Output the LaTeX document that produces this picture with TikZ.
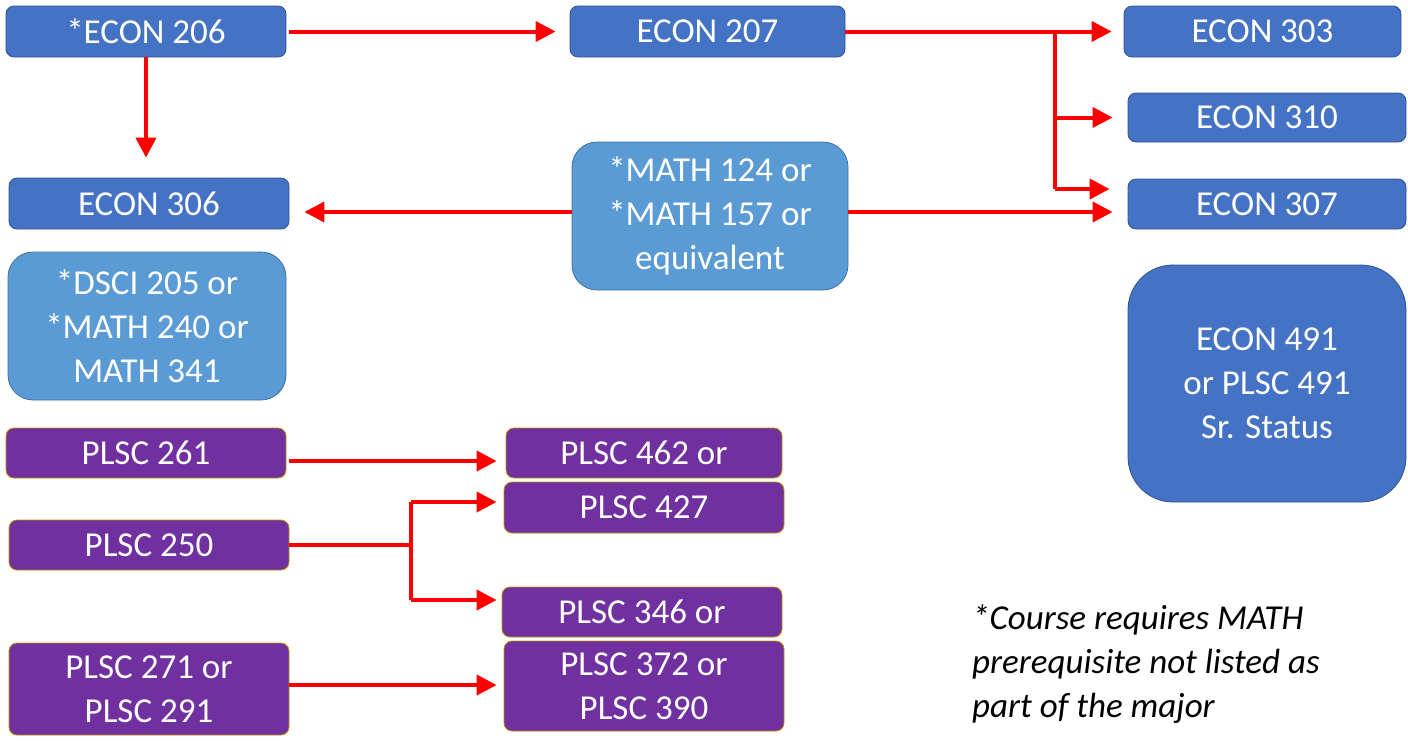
\documentclass[tikz,border=0pt]{standalone}
\usepackage{fontspec}
\setmainfont{Carlito}
\usetikzlibrary{arrows.meta}
\definecolor{eblue}{HTML}{4472C4}
\definecolor{eblueb}{HTML}{2F528F}
\definecolor{lblue}{HTML}{5B9BD5}
\definecolor{lblueb}{HTML}{41719C}
\definecolor{purp}{HTML}{7030A0}
\definecolor{goldb}{HTML}{BF9000}
\definecolor{arrred}{HTML}{FF0000}
\begin{document}
\begin{tikzpicture}[x=1pt,y=-1pt,
  basebox/.style={rectangle, inner sep=0pt, align=center, text=white,
    font=\fontsize{35}{44}\selectfont, line width=0.8pt},
  ebox/.style={basebox, fill=eblue, draw=eblueb, rounded corners=8pt},
  lbox/.style={basebox, fill=lblue, draw=lblueb, rounded corners=25pt},
  pbox/.style={basebox, fill=purp, draw=goldb, rounded corners=8pt},
  arr/.style={draw=arrred, line width=4pt, -{Triangle[length=20pt,width=20pt]}},
  ln/.style={draw=arrred, line width=4pt}]
\useasboundingbox (0,0) rectangle (1408,740);
% ECON boxes
\node[ebox, minimum width=280pt, minimum height=51pt] (e206) at (146,31.5) {*ECON 206};
\node[ebox, minimum width=275pt, minimum height=51pt] (e207) at (707.5,31.5) {ECON 207};
\node[ebox, minimum width=277pt, minimum height=51pt] (e303) at (1262.5,31.5) {ECON 303};
\node[ebox, minimum width=278pt, minimum height=49pt] (e310) at (1267,117.5) {ECON 310};
\node[ebox, minimum width=278pt, minimum height=50pt] (e307) at (1267,204) {ECON 307};
\node[ebox, minimum width=280pt, minimum height=51pt] (e306) at (149,203.5) {ECON 306};
\node[lbox, minimum width=276pt, minimum height=148pt] (math) at (710,216) {*MATH 124 or\\*MATH 157 or\\equivalent};
\node[lbox, minimum width=278pt, minimum height=148pt] (dsci) at (147,326) {*DSCI 205 or\\*MATH 240 or\\MATH 341};
\node[ebox, rounded corners=45pt, minimum width=278pt, minimum height=237pt] (e491) at (1267,383.5) {ECON 491\\or PLSC 491\\Sr. Status};
% PLSC boxes
\node[pbox, minimum width=280pt, minimum height=50pt] (p261) at (146,453) {PLSC 261};
\node[pbox, minimum width=276pt, minimum height=50pt] (p462) at (644,453) {PLSC 462 or};
\node[pbox, minimum width=280pt, minimum height=51pt] (p427) at (644,507.5) {PLSC 427};
\node[pbox, minimum width=280pt, minimum height=50pt] (p250) at (149,545) {PLSC 250};
\node[pbox, minimum width=280pt, minimum height=50pt] (p346) at (642,612) {PLSC 346 or};
\node[pbox, minimum width=280pt, minimum height=90pt] (p372) at (644,686) {PLSC 372 or\\PLSC 390};
\node[pbox, minimum width=280pt, minimum height=92pt] (p271) at (149,689) {PLSC 271 or\\PLSC 291};
% footnote
\node[anchor=west, align=left, inner sep=0pt, font=\fontsize{35}{44}\selectfont\itshape] (note) at (972,664) {*Course requires MATH\\prerequisite not listed as\\part of the major};
% branch coordinates
\coordinate (br1) at (1055,0);
\coordinate (br2) at (411,0);
% arrows
\draw[arr, shorten <=3pt, shorten >=14pt] (e206.east) -- (e207.west);
\draw[arr, shorten >=20pt] (e206.south) -- (e206.south |- e306.north);
\draw[arr, shorten >=12pt] (e207.east) -- (e303.west);
\draw[ln] (br1 |- e207.east) -- ([yshift=15pt]br1 |- e307.west);
\draw[arr, shorten >=15pt] (br1 |- e310.west) -- (e310.west);
\draw[arr, shorten >=18pt] ([yshift=15pt]br1 |- e307.west) -- ([yshift=15pt]e307.west);
\draw[arr, shorten >=15pt] ([yshift=4pt]math.west) -- ([yshift=4pt]math.west -| e306.east);
\draw[arr, shorten >=15pt] ([yshift=4pt]math.east) -- ([yshift=4pt]math.east -| e307.west);
\draw[arr, shorten <=3pt, shorten >=9pt] ([yshift=-8pt]p261.east) -- ([yshift=-8pt]p261.east -| p462.west);
\draw[ln] (p250.east) -- (br2 |- p250.east);
\draw[ln] ([yshift=5.5pt]br2 |- p427.west) -- ([yshift=12pt]br2 |- p346.west);
\draw[arr, shorten >=7pt] ([yshift=5.5pt]br2 |- p427.west) -- ([yshift=5.5pt]p427.west);
\draw[arr, shorten >=5pt] ([yshift=12pt]br2 |- p346.west) -- ([yshift=12pt]p346.west);
\draw[arr, shorten >=7pt] ([yshift=4pt]p271.east) -- ([yshift=4pt]p271.east -| p372.west);
\end{tikzpicture}
\end{document}
